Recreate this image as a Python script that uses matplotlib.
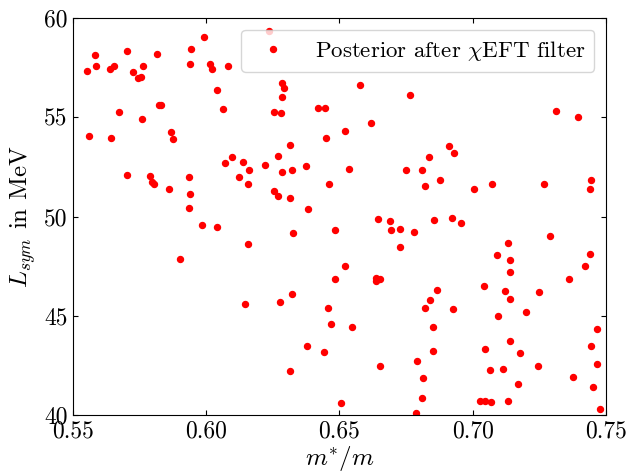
import matplotlib
matplotlib.use('Agg')
import matplotlib.pyplot as plt

# Valores (m*/m, L_sym en MeV)
m_eff = [0.5551, 0.5583, 0.5586, 0.5560, 0.5639, 0.5653, 0.5673, 0.5643, 0.5704, 0.5724,
         0.5745, 0.5754, 0.5761, 0.5758, 0.5701, 0.5814, 0.5789, 0.5797, 0.5805, 0.5821,
         0.5829, 0.5867, 0.5874, 0.5862, 0.5939, 0.5943, 0.5935, 0.5938, 0.5935, 0.5992,
         0.6014, 0.6022, 0.6042, 0.6062, 0.6080, 0.6070, 0.6096, 0.6124, 0.6235, 0.6284,
         0.6292, 0.6284, 0.6253, 0.6282, 0.6420, 0.6446, 0.6577, 0.6766, 0.6617, 0.6522,
         0.6451, 0.6313, 0.6269, 0.6139, 0.6162, 0.6157, 0.6222, 0.6283, 0.6323, 0.6376,
         0.6535, 0.6749, 0.6254, 0.6269, 0.6313, 0.6461, 0.6383, 0.7313, 0.7395, 0.6912,
         0.6930, 0.6836, 0.6811, 0.6821, 0.6877, 0.7004, 0.7074, 0.7267, 0.7445, 0.7440,
         0.5984, 0.6040, 0.5903, 0.6645, 0.6690, 0.6694, 0.6726, 0.6778, 0.6726, 0.6483,
         0.6325, 0.6156, 0.6522, 0.6483, 0.6636, 0.6652, 0.6639, 0.6144, 0.6277, 0.6322,
         0.6457, 0.6469, 0.6547, 0.6377, 0.6441, 0.6313, 0.6653, 0.6792, 0.6506, 0.6787,
         0.6856, 0.6921, 0.6955, 0.7291, 0.7132, 0.7091, 0.7140, 0.7140, 0.7440, 0.7422,
         0.7360, 0.7043, 0.7122, 0.7140, 0.7248, 0.7199, 0.7094, 0.6865, 0.6840, 0.6821,
         0.6927, 0.6851, 0.6851, 0.6812, 0.6811, 0.7047, 0.7140, 0.7179, 0.7066, 0.7115,
         0.7246, 0.7171, 0.7027, 0.7047, 0.7069, 0.7132, 0.7377, 0.7451, 0.7476, 0.7466,
         0.7445, 0.7465]
L_sym = [57.33, 58.15, 57.57, 54.04, 57.43, 57.57, 55.28, 53.94, 58.34, 57.26,
         56.99, 57.01, 57.57, 54.91, 52.09, 58.20, 52.06, 51.74, 51.62, 55.60,
         55.63, 54.24, 53.90, 51.39, 57.71, 58.42, 51.97, 51.13, 50.43, 59.04,
         57.67, 57.42, 56.37, 55.40, 57.57, 52.68, 52.98, 51.97, 59.37, 56.74,
         56.46, 56.00, 55.28, 55.23, 55.47, 55.47, 56.65, 56.10, 54.73, 54.33,
         53.97, 53.62, 53.07, 52.76, 52.36, 51.62, 52.61, 52.24, 52.36, 52.56,
         52.39, 52.33, 51.28, 51.03, 50.93, 51.62, 50.36, 55.30, 55.01, 53.57,
         53.18, 53.01, 52.36, 51.54, 51.86, 51.39, 51.64, 51.62, 51.85, 51.39,
         49.56, 49.45, 47.84, 49.86, 49.76, 49.32, 49.39, 49.22, 48.46, 49.30,
         49.17, 48.63, 47.52, 46.88, 46.90, 46.88, 46.75, 45.59, 45.68, 46.10,
         45.41, 44.57, 44.43, 43.46, 43.16, 42.23, 42.47, 42.70, 40.62, 40.12,
         49.82, 49.92, 49.66, 49.02, 48.66, 48.04, 47.81, 47.19, 48.09, 47.49,
         46.87, 46.48, 46.23, 45.84, 46.21, 45.21, 45.00, 46.28, 45.79, 45.39,
         45.32, 44.43, 43.24, 41.88, 40.86, 43.32, 43.73, 43.12, 42.27, 42.30,
         42.47, 41.56, 40.72, 40.71, 40.67, 40.71, 41.93, 41.39, 40.32, 44.33,
         43.46, 42.57]

x_ticks = [0.55, 0.60, 0.65, 0.70, 0.75]
y_ticks = [40, 45, 50, 55, 60]

# Estilo tipo LaTeX
plt.rcParams['font.family'] = 'serif'
plt.rcParams['font.serif'] = ['cmr10']
plt.rcParams['mathtext.fontset'] = 'cm'
plt.rcParams['axes.formatter.use_mathtext'] = True

fig = plt.figure(figsize=(6.27, 4.76), dpi=100)
ax = fig.add_axes([0.1164, 0.128, 0.85, 0.834])

ax.plot(m_eff, L_sym, 'o', color='red', markersize=4.3, linestyle='none',
        label=r'Posterior after $\chi$EFT filter')

ax.set_xlim(0.55, 0.75)
ax.set_ylim(40, 60)
ax.set_xticks(x_ticks)
ax.set_yticks(y_ticks)
ax.set_xticklabels([f'{v:.2f}' for v in x_ticks])
ax.set_yticklabels([f'{v}' for v in y_ticks])
ax.tick_params(direction='in', top=True, right=True, labelsize=17, pad=4)

ax.set_xlabel(r'$m^{*}/m$', fontsize=18, labelpad=1)
ax.set_ylabel(r'$L_{sym}$ in MeV', fontsize=18, labelpad=4)

ax.legend(loc='upper right', numpoints=1, fontsize=16.5)

fig.savefig('out.png', dpi=100)
